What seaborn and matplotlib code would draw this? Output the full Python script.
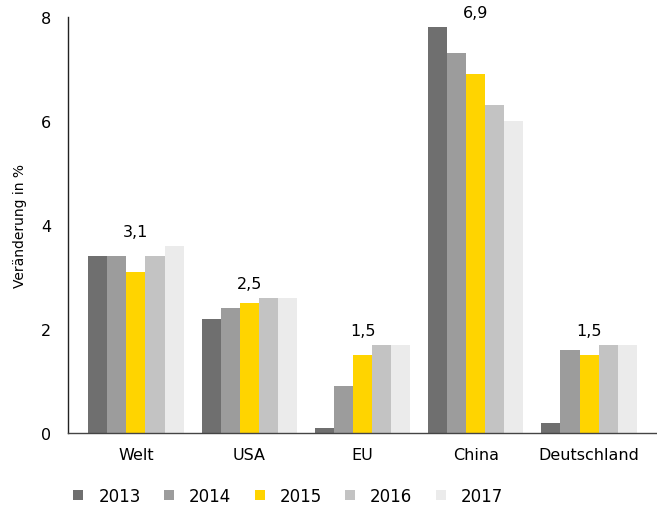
import matplotlib
matplotlib.use("Agg")
import matplotlib.pyplot as plt
import seaborn as sns
import pandas as pd
from matplotlib.patches import Patch

regions = ["Welt", "USA", "EU", "China", "Deutschland"]
years = ["2013", "2014", "2015", "2016", "2017"]
v2013 = [3.4, 2.2, 0.1, 7.8, 0.2]
v2014 = [3.4, 2.4, 0.9, 7.3, 1.6]
v2015 = [3.1, 2.5, 1.5, 6.9, 1.5]
v2016 = [3.4, 2.6, 1.7, 6.3, 1.7]
v2017 = [3.6, 2.6, 1.7, 6.0, 1.7]
labels_2015 = ["3,1", "2,5", "1,5", "6,9", "1,5"]
yticks = [0, 2, 4, 6, 8]
colors = ["#6f6f6f", "#9c9c9c", "#ffd400", "#c3c3c3", "#ebebeb"]

series = [v2013, v2014, v2015, v2016, v2017]
rows = []
for y, vals in zip(years, series):
    for r, v in zip(regions, vals):
        rows.append({"Region": r, "Jahr": y, "Wert": v})
df = pd.DataFrame(rows)

sns.set_style("white")
plt.rcParams["font.family"] = ["DejaVu Sans"]
plt.rcParams["text.color"] = "black"
plt.rcParams["xtick.color"] = "black"
plt.rcParams["ytick.color"] = "black"
plt.rcParams["axes.labelcolor"] = "black"

fig = plt.figure(figsize=(6.57, 5.06), dpi=100)
ax = fig.add_axes([68/657, (506-434)/506, (657-68)/657, (434-18)/506])

sns.barplot(data=df, x="Region", y="Wert", hue="Jahr", order=regions,
            hue_order=years, palette=colors, width=0.84, gap=0,
            saturation=1, errorbar=None, linewidth=0, ax=ax, legend=False)

ax.set_ylim(0, 8)
ax.set_xlim(-0.6, 4.6)
ax.set_yticks(yticks)
ax.set_yticklabels([str(t) for t in yticks], fontsize=11.5)
ax.tick_params(axis="y", direction="out", length=6, width=1, color="#222222", pad=6)
ax.tick_params(axis="x", length=0, labelsize=11.5, pad=10)
ax.set_xlabel("")
ax.set_ylabel("Veränderung in %", fontsize=10, labelpad=10)
for s in ["top", "right"]:
    ax.spines[s].set_visible(False)
ax.spines["left"].set_color("#222222")
ax.spines["bottom"].set_color("#444444")
ax.spines["left"].set_linewidth(1)
ax.spines["bottom"].set_linewidth(1)

for i, lab in enumerate(labels_2015):
    top = max(s[i] for s in series)
    ax.annotate(lab, xy=(i, top), xytext=(0, 5), textcoords="offset points",
                ha="center", va="bottom", fontsize=11.5)

handles = [Patch(facecolor=c, edgecolor="none", label=y) for c, y in zip(colors, years)]
fig.legend(handles=handles, loc="center left", bbox_to_anchor=(65/657, (506-497)/506),
           ncol=5, frameon=False, fontsize=12, handlelength=0.6, handleheight=0.6,
           handletextpad=0.9, columnspacing=1.4, borderpad=0)

fig.savefig("out.png", dpi=100)
